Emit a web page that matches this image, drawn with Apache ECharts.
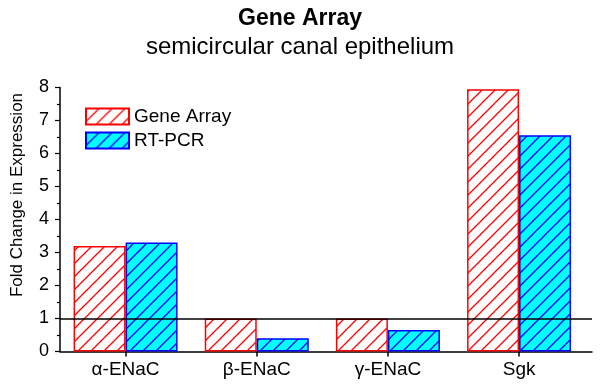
<!DOCTYPE html>
<html>
<head>
<meta charset="utf-8">
<script src="https://cdn.jsdelivr.net/npm/echarts@6/dist/echarts.min.js"></script>
<style>
html,body{margin:0;padding:0;background:#fff;}
#chart{width:600px;height:385px;}
</style>
</head>
<body>
<div id="chart"></div>
<script>
const categories = ['\u03b1-ENaC', '\u03b2-ENaC', '\u03b3-ENaC', 'Sgk'];
const geneArray = [3.2, 1.0, 1.0, 7.95];
const rtPcr = [3.3, 0.4, 0.65, 6.55];
const yTicks = [0, 1, 2, 3, 4, 5, 6, 7, 8];
const referenceLevel = 1;
const seriesNames = ['Gene Array', 'RT-PCR'];

const FONT = "'Liberation Sans', Arial, sans-serif";

function hatch(bg, fg) {
  const s = 13;
  const c = document.createElement('canvas');
  c.width = s; c.height = s;
  const ctx = c.getContext('2d');
  ctx.fillStyle = bg;
  ctx.fillRect(0, 0, s, s);
  ctx.strokeStyle = fg;
  ctx.lineWidth = 1.3;
  ctx.beginPath();
  ctx.moveTo(-1, s + 1); ctx.lineTo(s + 1, -1);
  ctx.moveTo(-2, 2); ctx.lineTo(2, -2);
  ctx.moveTo(s - 2, s + 2); ctx.lineTo(s + 2, s - 2);
  ctx.stroke();
  return { image: c, repeat: 'repeat' };
}

const tickPositions = categories.map((_, i) => i + 1);

const chart = echarts.init(document.getElementById('chart'), null, { renderer: 'canvas' });
chart.setOption({
  backgroundColor: '#fff',
  animation: false,
  title: {
    text: 'Gene Array',
    subtext: 'semicircular canal epithelium',
    left: 'center',
    top: 2,
    itemGap: 5,
    textStyle: { fontFamily: FONT, fontSize: 23, fontWeight: 'bold', color: '#000' },
    subtextStyle: { fontFamily: FONT, fontSize: 24, color: '#000' }
  },
  legend: {
    data: seriesNames,
    icon: 'rect',
    left: 85,
    top: 107,
    padding: 0,
    orient: 'vertical',
    itemWidth: 43,
    itemHeight: 16,
    itemGap: 5,
    textStyle: { fontFamily: FONT, fontSize: 19, color: '#000', padding: [0, 0, 0, 0] }
  },
  grid: { left: 60, right: 8, top: 87.5, bottom: 33.5, containLabel: false },
  xAxis: {
    type: 'value',
    min: 0.5,
    max: 4.556,
    splitLine: { show: false },
    axisLine: { show: true, onZero: false, lineStyle: { color: '#000', width: 1.5 } },
    axisTick: { show: true, customValues: tickPositions, length: 5, lineStyle: { color: '#000', width: 1.5 } },
    axisLabel: {
      customValues: tickPositions,
      formatter: v => categories[Math.round(v) - 1] || '',
      fontFamily: FONT, fontSize: 19, color: '#000', margin: 9
    }
  },
  yAxis: {
    type: 'value',
    min: yTicks[0],
    max: yTicks[yTicks.length - 1],
    interval: 1,
    splitLine: { show: false },
    axisLine: { show: true, lineStyle: { color: '#000', width: 1.5 } },
    axisTick: { show: true, length: 5, lineStyle: { color: '#000', width: 1.2 } },
    minorTick: { show: true, splitNumber: 2, length: 3, lineStyle: { color: '#000', width: 1.2 } },
    axisLabel: { fontFamily: FONT, fontSize: 18, color: '#000', margin: 11 }
  },
  graphic: [{
    type: 'text',
    x: 17,
    y: 195,
    rotation: Math.PI / 2,
    style: {
      text: 'Fold Change in Expression',
      font: '17px ' + FONT,
      fill: '#000',
      align: 'center',
      verticalAlign: 'middle'
    }
  }],
  series: [
    {
      name: seriesNames[0],
      type: 'bar',
      barWidth: 52,
      barGap: '0%',
      data: geneArray.map((v, i) => [tickPositions[i], v]),
      itemStyle: { color: hatch('#ffffff', '#ff0000'), borderColor: '#ff0000', borderWidth: 1.5 },
      markLine: {
        silent: true,
        symbol: 'none',
        label: { show: false },
        lineStyle: { color: '#000', width: 1.5, type: 'solid' },
        data: [{ yAxis: referenceLevel }]
      }
    },
    {
      name: seriesNames[1],
      type: 'bar',
      barWidth: 52,
      barGap: '0%',
      data: rtPcr.map((v, i) => [tickPositions[i], v]),
      itemStyle: { color: hatch('#00ffff', '#0000ff'), borderColor: '#0000ff', borderWidth: 1.5 }
    }
  ]
});
</script>
</body>
</html>
